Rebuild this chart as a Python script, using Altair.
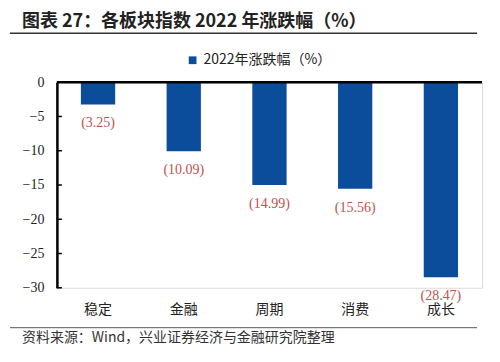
import altair as alt
import pandas as pd

categories = ["稳定", "金融", "周期", "消费", "成长"]
values = [-3.25, -10.09, -14.99, -15.56, -28.47]
labels = ["(3.25)", "(10.09)", "(14.99)", "(15.56)", "(28.47)"]
y_ticks = [0, -5, -10, -15, -20, -25, -30]
series_name = "2022年涨跌幅（%）"
title_text = "图表 27：各板块指数 2022 年涨跌幅（%）"
source_text = "资料来源：Wind，兴业证券经济与金融研究院整理"

W, H = 426, 206
BLUE = "#0B4D9B"
RED = "#C0504D"
CJK = "Noto Sans CJK SC"
SERIF = "Liberation Serif"

df = pd.DataFrame({"cat": categories, "val": values, "lab": labels, "series": series_name})
ticks_df = pd.DataFrame({"val": y_ticks})
zero_df = pd.DataFrame({"val": [0]})

x_axis = alt.Axis(title=None, domain=False, ticks=False, labelAngle=0,
                  labelFont=CJK, labelFontSize=14, labelColor="#222",
                  labelPadding=15)
x_scale = alt.Scale(paddingInner=0.6, paddingOuter=0.28)
y_scale = alt.Scale(domain=[-30, 0], nice=False, zero=False)
y_axis = alt.Axis(title=None, values=y_ticks, grid=False, domainColor="black",
                  domainWidth=2.5, ticks=False, labelFont=SERIF, labelFontSize=14,
                  labelColor="#222", labelPadding=13, labelOverlap=False,
                  labelFlush=False)

def xe():
    return alt.X("cat:N", sort=categories, scale=x_scale, axis=x_axis)

def ye():
    return alt.Y("val:Q", scale=y_scale, axis=y_axis)

bars = alt.Chart(df).mark_bar().encode(
    x=xe(), y=ye(),
    color=alt.Color("series:N", scale=alt.Scale(range=[BLUE]),
                    legend=alt.Legend(title=None, orient="none", legendX=129, legendY=-29,
                                      symbolType="square", symbolSize=60,
                                      symbolStrokeWidth=0, labelFont=CJK,
                                      labelFontSize=14, labelColor="#222")),
)

value_labels = alt.Chart(df).mark_text(
    font=SERIF, fontSize=14, color=RED, dy=19, baseline="middle"
).encode(x=xe(), y=ye(), text="lab:N")

zero_line = alt.Chart(zero_df).mark_rule(color="black", strokeWidth=2.5).encode(
    y=ye(), x=alt.value(0), x2=alt.value(W)
)

tick_marks = alt.Chart(ticks_df).mark_rule(color="black", strokeWidth=1.5).encode(
    y=ye(), x=alt.value(0), x2=alt.value(5)
)

title = alt.Chart(pd.DataFrame({"t": [title_text]})).mark_text(
    font=CJK, fontSize=18, fontWeight="bold", color="#222", align="left", baseline="middle"
).encode(text="t:N", x=alt.value(-35), y=alt.value(-60))

underline = alt.Chart(pd.DataFrame({"a": [1]})).mark_rule(color="#333", strokeWidth=1.5).encode(
    x=alt.value(-47), x2=alt.value(421), y=alt.value(-49)
)

sep = alt.Chart(pd.DataFrame({"a": [1]})).mark_rule(color="#555", strokeWidth=1).encode(
    x=alt.value(-47), x2=alt.value(421), y=alt.value(246)
)

source = alt.Chart(pd.DataFrame({"t": [source_text]})).mark_text(
    font=CJK, fontSize=14, color="#333", align="left", baseline="middle"
).encode(text="t:N", x=alt.value(-35), y=alt.value(256))

chart = alt.layer(
    bars, value_labels, zero_line, tick_marks, title, underline, sep, source
).properties(
    width=W, height=H,
    autosize=alt.AutoSizeParams(type="none"),
    padding={"left": 49, "top": 74, "right": 10, "bottom": 70},
).configure_view(stroke=None).configure(background="white")

chart.save("out.html", embed_options={"renderer": "svg", "actions": False})
